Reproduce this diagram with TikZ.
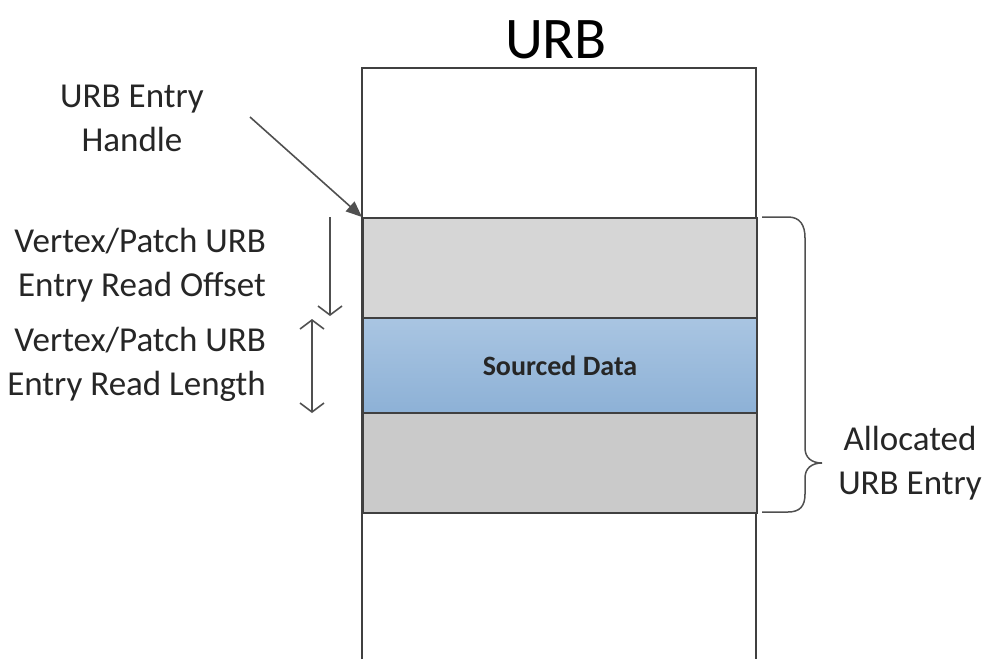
\documentclass[tikz,border=0pt]{standalone}
\usepackage{fontspec}
\setmainfont{Carlito}
\usetikzlibrary{arrows.meta}
\definecolor{linec}{HTML}{404040}
\definecolor{arrc}{HTML}{505050}
\definecolor{grayband}{HTML}{D6D6D6}
\definecolor{grayband2}{HTML}{CACACA}
\definecolor{bluetop}{HTML}{A9C5E2}
\definecolor{bluebot}{HTML}{8DB1D6}
\definecolor{txt}{HTML}{262626}
\begin{document}
\begin{tikzpicture}[x=1pt,y=-1pt,
  band/.style={draw=linec,line width=2pt,minimum width=394pt,minimum height=97pt,inner sep=0pt,anchor=north west},
  lbl/.style={font=\fontsize{35}{44}\selectfont,text=txt,inner sep=0pt},
  conn/.style={draw=arrc,line width=1.6pt}]
\useasboundingbox (0,0) rectangle (984,659);
% outer URB column (open at bottom)
\draw[linec,line width=2pt] (362,659) -- (362,68) -- (756,68) -- (756,659);
\node[band,fill=grayband,minimum height=100pt] (b1) at (362,217) {};
\node[band,top color=bluetop,bottom color=bluebot,minimum height=95pt] (b2) at (362,317) {\fontsize{28}{30}\selectfont\bfseries\color{txt}Sourced Data};
\node[band,fill=grayband2,minimum height=100pt] (b3) at (362,412) {};
\node[font=\fontsize{59}{62}\selectfont,text=black,inner sep=0pt] (title) at (556,40) {URB};
% handle label and arrow
\node[lbl,align=center] (handle) at (132,118) {URB Entry\\Handle};
\coordinate (hs) at (250,117);
\draw[conn,-{Triangle[length=16pt,width=13pt]}] (hs) -- (b1.north west);
% offset
\node[lbl,align=right,anchor=east] (offset) at (266,265) {Vertex/Patch URB\\Entry Read Offset};
\coordinate (os) at (330,217);
\coordinate (oe) at (330,316);
\draw[conn,-{Straight Barb[length=9pt,width=24pt]}] (os) -- (oe);
% length
\node[lbl,align=right,anchor=east] (length) at (266,364) {Vertex/Patch URB\\Entry Read Length};
\coordinate (ls) at (312,319);
\coordinate (le) at (312,413);
\draw[conn,{Straight Barb[length=9pt,width=24pt]}-{Straight Barb[length=9pt,width=24pt]}] (ls) -- (le);
% brace
\coordinate (bt) at (762,217);
\coordinate (bb) at (762,512);
\coordinate (tip) at (822,463);
\draw[conn,line width=1.5pt] (bt) -- (788,217) .. controls (800,217) and (805,225) .. (805,238) -- (805,448)
  .. controls (805,458) and (812,463) .. (tip)
  .. controls (812,463) and (805,468) .. (805,478) -- (805,494)
  .. controls (805,506) and (800,512) .. (788,512) -- (bb);
\node[lbl,align=center] (alloc) at (910,463) {Allocated\\URB Entry};
\end{tikzpicture}
\end{document}
